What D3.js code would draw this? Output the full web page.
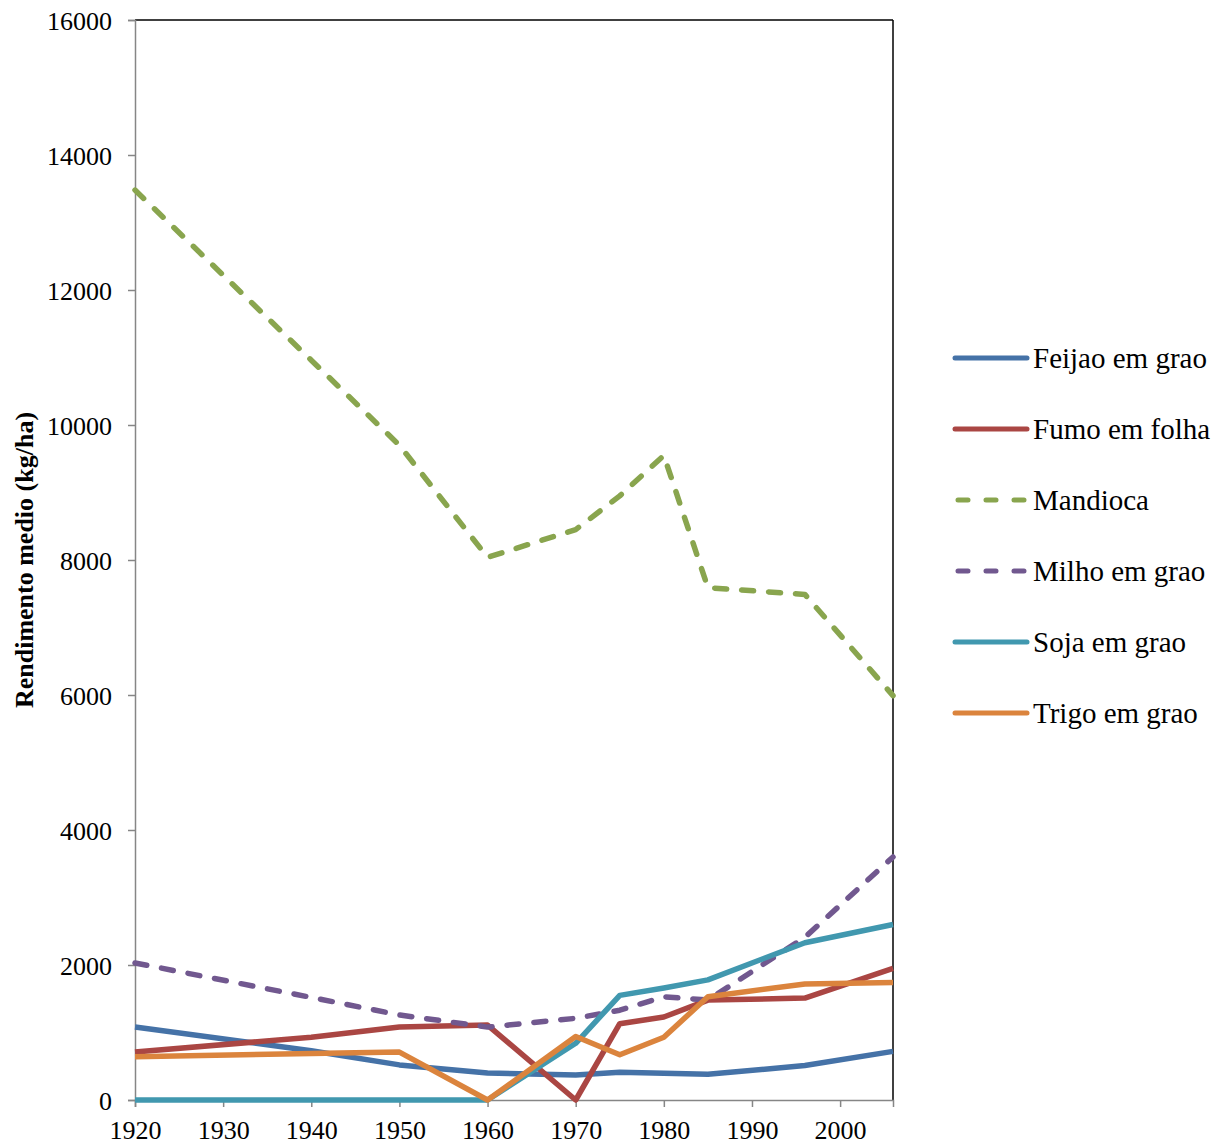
<!DOCTYPE html>
<html><head><meta charset="utf-8">
<script src="https://cdn.jsdelivr.net/npm/d3@7"></script>
<style>body{margin:0;background:#fff}</style>
</head><body>
<svg id="c" width="1222" height="1147"></svg>
<script>
const years = [1920, 1940, 1950, 1960, 1970, 1975, 1980, 1985, 1996, 2006];
const feijao   = [1080, 730, 520, 400, 370, 410, 395, 380, 510, 720];
const fumo     = [710, 930, 1080, 1110, 0, 1130, 1230, 1480, 1510, 1950];
const mandioca = [13480, 10960, 9700, 8040, 8450, 8950, 9550, 7590, 7490, 5990];
const milho    = [2030, 1520, 1260, 1080, 1210, 1330, 1530, 1480, 2410, 3600];
const soja     = [0, 0, 0, 0, 840, 1550, 1660, 1780, 2330, 2600];
const trigo    = [640, 690, 710, 0, 940, 670, 930, 1530, 1720, 1740];
const seriesNames = ["Feijao em grao","Fumo em folha","Mandioca","Milho em grao","Soja em grao","Trigo em grao"];
const seriesColors = ["#4572A7","#AA4643","#89A54E","#71588F","#4198AF","#DB843D"];
const seriesDashed = [false,false,true,true,false,false];
const xTicks = [1920,1930,1940,1950,1960,1970,1980,1990,2000];
const yTicks = [0,2000,4000,6000,8000,10000,12000,14000,16000];
const yLabel = "Rendimento medio (kg/ha)";

const seriesValues = [feijao,fumo,mandioca,milho,soja,trigo];
const svg = d3.select("#c");
const L=135, R=893, T=20, B=1100;
const x = d3.scaleLinear().domain([1920,2006]).range([L,R]);
const y = d3.scaleLinear().domain([0,16000]).range([B,T]);
const axisColor = "#868686";
const font = "'Liberation Serif','Times New Roman',serif";

svg.append("line").attr("x1",L).attr("x2",R).attr("y1",T).attr("y2",T).attr("stroke","#000").attr("stroke-width",1.5);
svg.append("line").attr("x1",R).attr("x2",R).attr("y1",T).attr("y2",B).attr("stroke","#000").attr("stroke-width",1.5);

const yAx = svg.append("g").attr("transform",`translate(${L},0)`)
  .call(d3.axisLeft(y).tickValues(yTicks).tickFormat(d3.format("d")).tickSize(7).tickPadding(16));
const xAx = svg.append("g").attr("transform",`translate(0,${B})`)
  .call(d3.axisBottom(x).tickValues(xTicks).tickFormat(d3.format("d")).tickSize(7).tickPadding(14));
[yAx,xAx].forEach(a=>{
  a.select(".domain").attr("stroke",axisColor).attr("stroke-width",1.5);
  a.selectAll(".tick line").attr("stroke",axisColor).attr("stroke-width",1.5);
  a.selectAll("text").attr("font-family",font).attr("font-size",26).attr("fill","#000");
});
yAx.selectAll("text").attr("dy","0.35em");

svg.append("text").attr("transform",`translate(33,${(T+B)/2}) rotate(-90)`)
  .attr("text-anchor","middle").attr("font-family",font).attr("font-size",26)
  .attr("font-weight","bold").text(yLabel);

const line = d3.line().x((d,i)=>x(years[i])).y(d=>y(d));
const g = svg.append("g");
seriesValues.forEach((vals,k)=>{
  g.append("path").datum(vals).attr("d",line).attr("fill","none")
    .attr("stroke",seriesColors[k]).attr("stroke-width",5.5)
    .attr("stroke-linejoin","round")
    .attr("stroke-linecap", seriesDashed[k] ? "round" : "butt")
    .attr("stroke-dasharray", seriesDashed[k] ? "12,15" : null);
});

const lg = svg.append("g");
seriesNames.forEach((n,k)=>{
  const yy = 358 + k*71;
  lg.append("line").attr("x1",seriesDashed[k]?958:955).attr("x2",seriesDashed[k]?1025:1027).attr("y1",yy).attr("y2",yy)
    .attr("stroke",seriesColors[k]).attr("stroke-width",5)
    .attr("stroke-linecap","round")
    .attr("stroke-dasharray",seriesDashed[k]?"10,18":null);
  lg.append("text").attr("x",1033).attr("y",yy).attr("dy","0.35em")
    .attr("font-family",font).attr("font-size",29).text(n);
});
</script>
</body></html>
